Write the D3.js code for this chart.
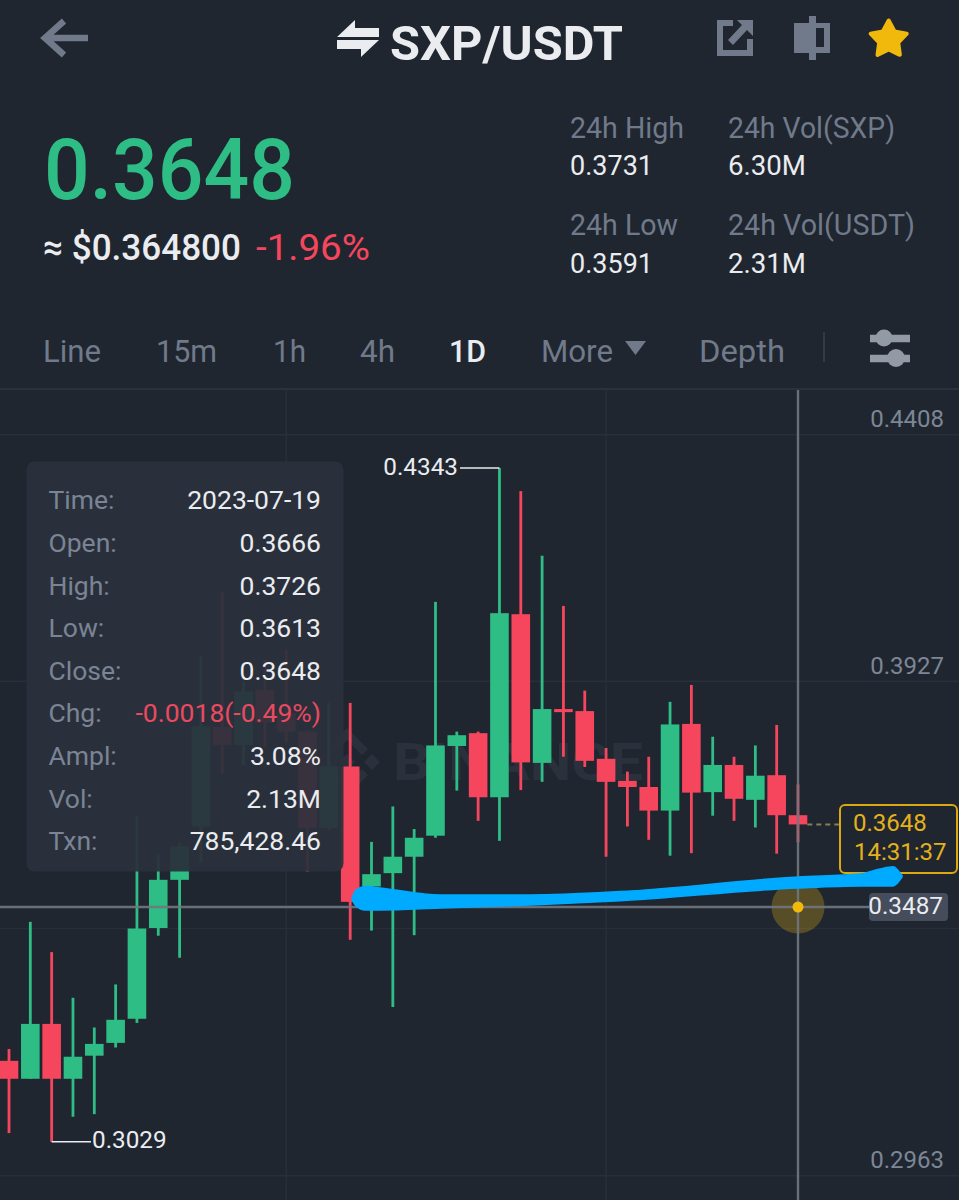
<!DOCTYPE html>
<html>
<head>
<meta charset="utf-8">
<script src="https://cdn.jsdelivr.net/npm/d3@7"></script>
<style>
  html, body { margin: 0; padding: 0; background: #1f2630; }
  svg { display: block; font-family: Roboto, sans-serif; }
</style>
</head>
<body>
<div id="chart"></div>
<script>
// daily candles (oldest first)
let opens  = [.3187,.3152,.3259,.3152,.3197,.3222,.3269,.3446,.3540,.3644,.3838,.3803,.3910,.3865,.3829,.3641,.3761,.3527,.3553,.3585,.3626,.3801,.3826,.3701,.4058,.3768,.3873,.3869,.3776,.3733,.3721,.3675,.3844,.3711,.3764,.3696,.3744,.3666]
let highs  = [.3210,.3458,.3399,.3310,.3252,.3336,.3663,.3588,.3612,.3975,.4102,.3926,.3969,.3988,.3832,.3885,.3885,.3614,.3683,.3639,.4082,.3829,.3829,.4343,.4298,.4172,.4074,.3909,.3797,.3751,.3780,.3887,.3920,.3819,.3780,.3802,.3842,.3726]
let lows   = [.3046,.3152,.3029,.3078,.3083,.3213,.3261,.3431,.3388,.3575,.3748,.3764,.3799,.3807,.3556,.3637,.3423,.3441,.3292,.3432,.3622,.3714,.3655,.3616,.3715,.3731,.3780,.3760,.3585,.3644,.3618,.3587,.3592,.3665,.3655,.3642,.3591,.3613]
let closes = [.3152,.3259,.3152,.3195,.3220,.3267,.3445,.3540,.3605,.3839,.3803,.3907,.3846,.3829,.3641,.3761,.3497,.3551,.3585,.3622,.3802,.3822,.3701,.4060,.3769,.3873,.3867,.3772,.3731,.3721,.3675,.3843,.3710,.3764,.3698,.3743,.3666,.3648]

let gridValues = [.4408,.3927,.3445,.2963]
let axisValues = [.4408,.3927,.2963]
let gridCandles = [13,28]

let lastPrice = .3648
let crossPrice = .3487
let crossCandle = 37
let highMark = {candle: 23, price: .4343}
let lowMark = {candle: 2, price: .3029}

// the blue felt-pen stroke drawn over the screenshot
let penCandle = [16.09,16.28,16.70,17.40,20.22,24.44,28.66,37.00,39.92,40.85,41.46,41.88]
let penTop    = [.35046,.35202,.35270,.35241,.35105,.35105,.35170,.35456,.35514,.35612,.35656,.35475]
let penBottom = [.35007,.34890,.34812,.34812,.34851,.34910,.34993,.35241,.35280,.35280,.35280,.35456]

let tipLabels = ["Time:","Open:","High:","Low:","Close:","Chg:","Ampl:","Vol:","Txn:"]
let tipValues = ["2023-07-19","0.3666","0.3726","0.3613","0.3648","-0.0018(-0.49%)","3.08%","2.13M","785,428.46"]

let tabs = ["Line","15m","1h","4h","1D","More","Depth"]
let tabStart = [43,156,273,360,449,541,699]
let tabWidth = [58,61,33,35,37,72,86]

let statLabels = ["24h High","24h Vol(SXP)","24h Low","24h Vol(USDT)"]
let statValues = ["0.3731","6.30M","0.3591","2.31M"]
let statX = [570,728,570,728]
let statY = [138,138,235,235]
let statValueY = [175,175,273,273]
let statLabelW = [114,167,108,187]
let statValueW = [83,78,83,78]

let green = "#2ebd85", red = "#f6465d", white = "#eaecef", gold = "#f0b90b",
    grey = "#707a8a", bg = "#1f2630", gridColor = "#282f3a"

let width = 959, height = 1200

let svg = d3.select("#chart").append("svg")
  .attr("width", width)
  .attr("height", height)

svg.append("rect").attr("width", width).attr("height", height).attr("fill", bg)

let x = d3.scaleLinear().domain([0,37]).range([9,798])
let y = d3.scaleLinear().domain([.4408,.2963]).range([434.7,1175.7])

function label(g, str, px, py, size, color, opts){
  opts = opts || {}
  let t = g.append("text")
    .attr("x", px).attr("y", py)
    .attr("font-size", size)
    .attr("fill", color)
    .attr("font-weight", opts.weight || 400)
    .attr("text-anchor", opts.anchor || "start")
    .text(str)
  if(opts.fit) t.attr("textLength", opts.fit).attr("lengthAdjust", "spacingAndGlyphs")
  return t
}

// ---- header ----
let head = svg.append("g")

head.append("path")
  .attr("d", "M88 38H48M64 21L45 38L64 55")
  .attr("fill", "none").attr("stroke", grey).attr("stroke-width", 6.5)

head.append("path")
  .attr("d", "M337 37L355 20V28H379V37ZM337 40H379L361 57V49H337Z")
  .attr("fill", white)
label(head, "SXP/USDT", 390, 60, 48, white, {weight: 700, fit: 233})

// share icon
head.append("path")
  .attr("d", "M733 23H720V53H750V39")
  .attr("fill", "none").attr("stroke", grey).attr("stroke-width", 6)
head.append("path")
  .attr("d", "M737 20H753V36L747 30L733 45L728 40L742 25Z")
  .attr("fill", grey)
// candle icon
head.append("path")
  .attr("d", "M794 23H809V16H816V23H830V53H816V60H809V53H794Z")
  .attr("fill", grey)
head.append("rect").attr("x", 816).attr("y", 28).attr("width", 8).attr("height", 19).attr("fill", bg)
// star
let starPts = d3.range(10).map(function(i){
  let r = i % 2 ? 10 : 19, a = i * Math.PI / 5
  return [888.7 + r * Math.sin(a), 39.5 - r * Math.cos(a)]
})
head.append("path")
  .attr("d", d3.line()(starPts) + "Z")
  .attr("fill", gold).attr("stroke", gold).attr("stroke-width", 4).attr("stroke-linejoin", "round")

label(head, "0.3648", 44, 199, 85, green, {weight: 500, fit: 251})
label(head, "≈ $0.364800", 43, 260, 37, white, {weight: 500, fit: 198})
label(head, "-1.96%", 256, 260, 37, red, {fit: 114})

statLabels.forEach(function(s,i){
  label(head, s, statX[i], statY[i], 30, grey, {fit: statLabelW[i]})
  label(head, statValues[i], statX[i], statValueY[i], 28, white, {fit: statValueW[i]})
})

// ---- tab row ----
let tabRow = svg.append("g")
tabs.forEach(function(t,i){
  let on = t === "1D"
  label(tabRow, t, tabStart[i], 362, 31, on ? white : grey, {weight: on ? 500 : 400, fit: tabWidth[i]})
})
tabRow.append("path").attr("d", "M625 341H646L635.5 355Z").attr("fill", grey)
tabRow.append("rect").attr("x", 823).attr("y", 332).attr("width", 2).attr("height", 30).attr("fill", "#333a46")
tabRow.append("path")
  .attr("d", "M870 338.5H910M870 358.5H910")
  .attr("stroke", "#929aa5").attr("stroke-width", 7.5)
tabRow.append("circle").attr("cx", 884).attr("cy", 338).attr("r", 8.5).attr("fill", "#929aa5")
tabRow.append("circle").attr("cx", 896).attr("cy", 358).attr("r", 9).attr("fill", "#929aa5")
svg.append("line").attr("x1", 0).attr("x2", width).attr("y1", 389).attr("y2", 389)
  .attr("stroke", "#2b323d").attr("stroke-width", 2)

// ---- grid ----
let grid = svg.append("g")
grid.selectAll("line.h").data(gridValues).enter().append("line")
  .attr("class", "h")
  .attr("x1", 0).attr("x2", width)
  .attr("y1", d => y(d)).attr("y2", d => y(d))
  .attr("stroke", gridColor).attr("stroke-width", 1.5)
grid.selectAll("line.v").data(gridCandles).enter().append("line")
  .attr("class", "v")
  .attr("x1", d => x(d)).attr("x2", d => x(d))
  .attr("y1", 390).attr("y2", height)
  .attr("stroke", gridColor).attr("stroke-width", 1.5)

// watermark
let mark = svg.append("g").attr("fill", "#2a313c")
label(mark, "BINANCE", 393, 780, 52, "#2a313c", {weight: 700, fit: 250})
mark.append("path").attr("d",
  "M372 754L380 762L372 770L364 762Z" +
  "M347 728L368 749L362 755L347 740L332 755L326 749Z" +
  "M347 754L355 762L347 770L339 762Z" +
  "M347 796L368 775L362 769L347 784L332 769L326 775Z")

// ---- candles ----
let bodyWidth = 18.6, wickWidth = 2.8
let candles = d3.range(closes.length).map(function(i){
  return {i: i, open: opens[i], high: highs[i], low: lows[i], close: closes[i]}
})
let candleColor = d => d.close >= d.open ? green : red

let candle = svg.append("g").selectAll("g").data(candles).enter().append("g")
candle.append("rect")
  .attr("x", d => x(d.i) - wickWidth/2)
  .attr("width", wickWidth)
  .attr("y", d => y(d.high))
  .attr("height", d => y(d.low) - y(d.high))
  .attr("fill", candleColor)
candle.append("rect")
  .attr("x", d => x(d.i) - bodyWidth/2)
  .attr("width", bodyWidth)
  .attr("y", d => y(Math.max(d.open,d.close)))
  .attr("height", d => y(Math.min(d.open,d.close)) - y(Math.max(d.open,d.close)))
  .attr("fill", candleColor)

// ---- y axis labels ----
let axis = svg.append("g")
  .attr("transform", "translate(944,0)")
  .call(d3.axisRight(y).tickValues(axisValues).tickSize(0).tickFormat(d3.format(".4f")))
axis.select(".domain").remove()
axis.selectAll("text")
  .attr("x", 0).attr("y", -8).attr("dy", 0)
  .attr("text-anchor", "end")
  .attr("font-family", "Roboto, sans-serif")
  .attr("font-size", 24)
  .attr("fill", "#7d8695")

// ---- high / low markers ----
let marks = svg.append("g")
marks.append("line")
  .attr("x1", x(highMark.candle)).attr("x2", 460)
  .attr("y1", y(highMark.price)).attr("y2", y(highMark.price))
  .attr("stroke", white).attr("stroke-width", 1.5)
label(marks, d3.format(".4f")(highMark.price), 458, y(highMark.price) + 6.5, 24.3, white, {anchor: "end"})
marks.append("line")
  .attr("x1", x(lowMark.candle)).attr("x2", 91)
  .attr("y1", y(lowMark.price)).attr("y2", y(lowMark.price))
  .attr("stroke", white).attr("stroke-width", 1.5)
label(marks, d3.format(".4f")(lowMark.price), 92, y(lowMark.price) + 6.5, 24.3, white)

// ---- last price ----
let last = svg.append("g")
last.append("line")
  .attr("x1", x(37) + bodyWidth/2).attr("x2", 840)
  .attr("y1", y(lastPrice)).attr("y2", y(lastPrice))
  .attr("stroke", "#8a7f4f").attr("stroke-width", 2).attr("stroke-dasharray", "5 4")
last.append("rect")
  .attr("x", 840).attr("y", 805).attr("width", 117).attr("height", 68).attr("rx", 5)
  .attr("fill", bg).attr("stroke", "#d9a90f").attr("stroke-width", 2)
label(last, d3.format(".4f")(lastPrice), 853, 831, 24, "#e3b21a")
label(last, "14:31:37", 854, 860, 24, "#e3b21a")

// ---- crosshair ----
let cross = svg.append("g")
cross.append("circle")
  .attr("cx", x(crossCandle)).attr("cy", y(crossPrice)).attr("r", 26.5)
  .attr("fill", gold).attr("fill-opacity", .27)
cross.append("line")
  .attr("x1", x(crossCandle)).attr("x2", x(crossCandle)).attr("y1", 390).attr("y2", height)
  .attr("stroke", "#71777f").attr("stroke-width", 2.4).attr("opacity", .9)
cross.append("line")
  .attr("x1", 0).attr("x2", 869).attr("y1", y(crossPrice)).attr("y2", y(crossPrice))
  .attr("stroke", "#71777f").attr("stroke-width", 2.4).attr("opacity", .9)
cross.append("circle")
  .attr("cx", x(crossCandle)).attr("cy", y(crossPrice)).attr("r", 5.5).attr("fill", gold)
cross.append("rect")
  .attr("x", 869).attr("y", y(crossPrice) - 14).attr("width", 79).attr("height", 28).attr("rx", 4)
  .attr("fill", "#454d5c")
label(cross, d3.format(".4f")(crossPrice), 943, y(crossPrice) + 7.5, 24.3, white, {anchor: "end"})

// ---- tooltip ----
let tip = svg.append("g")
tip.append("rect")
  .attr("x", 26.5).attr("y", 461.5).attr("width", 317).attr("height", 410).attr("rx", 8)
  .attr("fill", "#2a313c").attr("fill-opacity", .94)
tipLabels.forEach(function(t,i){
  let py = 509.3 + i * 42.6
  label(tip, t, 48.5, py, 26.5, "#7b8494")
  label(tip, tipValues[i], 321, py, 26.5, t === "Chg:" ? "#ea4a60" : white, {anchor: "end"})
})

// ---- blue pen stroke, on top of everything ----
let pen = penCandle.map(function(c,i){ return {c: c, top: penTop[i], bottom: penBottom[i]} })
svg.append("path")
  .attr("d", d3.area()
    .x(d => x(d.c))
    .y0(d => y(d.top))
    .y1(d => y(d.bottom))
    .curve(d3.curveMonotoneX)(pen))
  .attr("fill", "#00aaff")
  .attr("stroke", "#00aaff").attr("stroke-width", 1.5).attr("stroke-linejoin", "round")
</script>
</body>
</html>
